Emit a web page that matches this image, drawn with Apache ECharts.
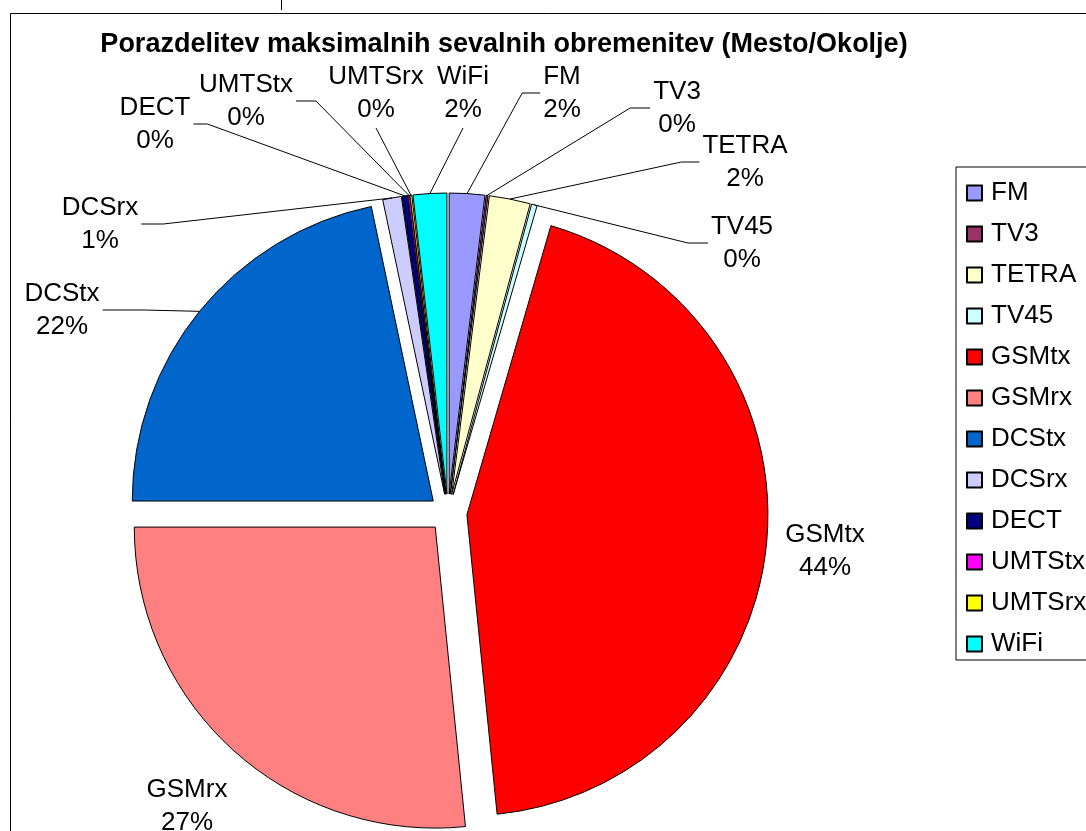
<!DOCTYPE html>
<html>
<head>
<meta charset="utf-8">
<script src="https://cdn.jsdelivr.net/npm/echarts@6/dist/echarts.min.js"></script>
<style>
  html, body { margin: 0; padding: 0; background: #fff; }
  #main { width: 1086px; height: 831px; }
</style>
</head>
<body>
<div id="main"></div>
<script>
(function(){
    // data
    var names  = ['FM', 'TV3', 'TETRA', 'TV45', 'GSMtx', 'GSMrx', 'DCStx', 'DCSrx', 'DECT', 'UMTStx', 'UMTSrx', 'WiFi'];
    var values = [1.9, 0.1, 2.2, 0.3, 43.9, 26.6, 21.7, 1.0, 0.3, 0.1, 0.1, 1.8];
    var colors = ['#9999FF', '#993366', '#FFFFCC', '#CCFFFF', '#FF0000', '#FF8080',
                  '#0066CC', '#CCCCFF', '#000080', '#FF00FF', '#FFFF00', '#00FFFF'];

    // label placement: centre of the two-line label, side where the leader starts, elbow length
    var labelPos = {
        FM:     [562, 93,  'left', 18],
        TV3:    [677, 108, 'left', 20],
        TETRA:  [745, 162, 'left', 18],
        TV45:   [742, 243, 'left', 20],
        GSMtx:  [825, 551, 'none', 0],
        GSMrx:  [187, 806, 'none', 0],
        DCStx:  [62,  310, 'right', 42],
        DCSrx:  [100, 224, 'right', 22],
        DECT:   [155, 124, 'right', 14],
        UMTStx: [246, 101, 'right', 20],
        UMTSrx: [376, 93,  'bottom', 0],
        WiFi:   [463, 93,  'bottom', 0]
    };

    var CX = 448, CY = 513, R = 301, OFFSET = 19;
    var font = 'Liberation Sans, Arial, sans-serif';

    var total = 0;
    values.forEach(function (v) { total += v; });

    // outer point of a slice along its middle angle (slice is pushed out by OFFSET)
    function edgePoint(i) {
        var before = 0;
        for (var k = 0; k < i; k++) before += values[k];
        var mid = (before + values[i] / 2) / total * Math.PI * 2;
        return [CX + (R + OFFSET) * Math.sin(mid), CY - (R + OFFSET) * Math.cos(mid)];
    }

    // exploded slices
    var sliceData = names.map(function (n, i) {
        return { name: n, value: values[i], selected: true, itemStyle: { color: colors[i] } };
    });
    // same values, invisible, only carries the labels
    var labelData = names.map(function (n, i) {
        var item = { name: n, value: values[i] };
        if (labelPos[n][2] === 'none') item.labelLine = { show: false };
        return item;
    });

    var myChart = echarts.init(document.getElementById('main'));
    var option = {
        backgroundColor: '#fff',
        animation: false,
        title: {
            text: 'Porazdelitev maksimalnih sevalnih obremenitev (Mesto/Okolje)',
            left: 499,
            top: 26,
            textAlign: 'center',
            textStyle: { fontFamily: font, fontSize: 27, fontWeight: 'bold', color: '#000' }
        },
        legend: {
            orient: 'vertical',
            left: 956,
            top: 167,
            padding: [13, 20, 3, 10],
            itemWidth: 15,
            itemHeight: 15,
            itemGap: 15,
            icon: 'rect',
            borderColor: '#000',
            borderWidth: 1,
            data: names,
            textStyle: { fontFamily: font, fontSize: 26, lineHeight: 26, color: '#000', padding: [0, 0, 0, 4] }
        },
        graphic: [
            { type: 'rect', shape: { x: 10.5, y: 13.5, width: 1100, height: 850 },
              style: { fill: 'none', stroke: '#000', lineWidth: 1 }, silent: true },
            { type: 'line', shape: { x1: 281.5, y1: 0, x2: 281.5, y2: 10 },
              style: { stroke: '#000', lineWidth: 1 }, silent: true }
        ],
        series: [{
            name: 'slices',
            type: 'pie',
            center: [CX, CY],
            radius: R,
            startAngle: 90,
            clockwise: true,
            selectedMode: 'multiple',
            selectedOffset: OFFSET,
            itemStyle: { borderColor: '#000', borderWidth: 1 },
            select: { itemStyle: { borderColor: '#000', borderWidth: 1 } },
            label: { show: false },
            labelLine: { show: false },
            data: sliceData
        }, {
            name: 'labels',
            type: 'pie',
            center: [CX, CY],
            radius: R,
            startAngle: 90,
            clockwise: true,
            silent: true,
            z: 3,
            percentPrecision: 0,
            avoidLabelOverlap: false,
            itemStyle: { color: 'rgba(0,0,0,0)', borderWidth: 0 },
            emphasis: { disabled: true },
            label: {
                show: true,
                position: 'outside',
                formatter: '{b}\n{d}%',
                fontFamily: font,
                fontSize: 26,
                lineHeight: 33,
                color: '#000',
                align: 'center'
            },
            labelLine: { show: true, lineStyle: { color: '#000', width: 1 } },
            labelLayout: function (params) {
                var n = names[params.dataIndex];
                var p = labelPos[n];
                var w = params.labelRect.width, h = params.labelRect.height;
                var res = { x: p[0], y: p[1], align: 'center', verticalAlign: 'middle' };
                if (p[2] === 'none') return res;
                var e = edgePoint(params.dataIndex);
                var a, b;
                if (p[2] === 'left') {
                    a = [p[0] - w / 2 - 3, p[1]];
                    b = [a[0] - p[3], p[1]];
                } else if (p[2] === 'right') {
                    a = [p[0] + w / 2 + 3, p[1]];
                    b = [a[0] + p[3], p[1]];
                } else {
                    a = [p[0], p[1] + h / 2 + 2];
                    b = a.slice();
                }
                res.labelLinePoints = [e, b, a];
                return res;
            },
            data: labelData
        }]
    };
    myChart.setOption(option);
})();
</script>
</body>
</html>
